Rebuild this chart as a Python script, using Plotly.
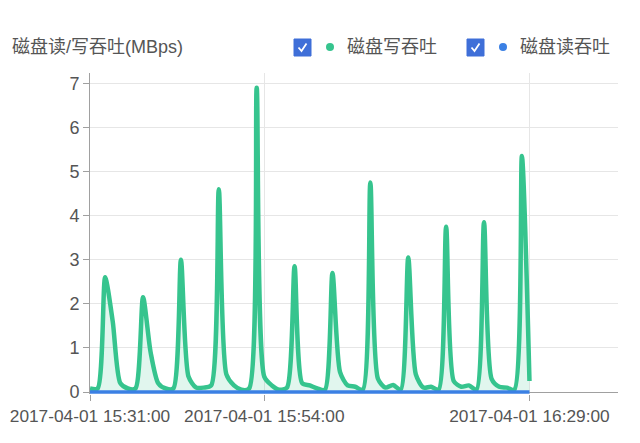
import plotly.graph_objects as go

# ---------------- data ----------------
minutes = [
    "15:31", "15:32", "15:33", "15:34", "15:35", "15:36", "15:37", "15:38", "15:39", "15:40",
    "15:41", "15:42", "15:43", "15:44", "15:45", "15:46", "15:47", "15:48", "15:49", "15:50",
    "15:51", "15:52", "15:53", "15:54", "15:55", "15:56", "15:57", "15:58", "15:59", "16:00",
    "16:01", "16:02", "16:03", "16:04", "16:05", "16:06", "16:07", "16:08", "16:09", "16:10",
    "16:11", "16:12", "16:13", "16:14", "16:15", "16:16", "16:17", "16:18", "16:19", "16:20",
    "16:21", "16:22", "16:23", "16:24", "16:25", "16:26", "16:27", "16:28", "16:29",
]
date_prefix = "2017-04-01 "

write_mbps = [
    0.08, 0.08, 2.6, 1.6, 0.2, 0.08, 0.08, 2.15, 0.9, 0.2,
    0.08, 0.08, 3.0, 0.35, 0.1, 0.1, 0.15, 4.6, 0.4, 0.15,
    0.05, 0.08, 6.9, 0.35, 0.15, 0.05, 0.1, 2.85, 0.2, 0.15,
    0.08, 0.05, 2.7, 0.45, 0.15, 0.12, 0.05, 4.75, 0.3, 0.1,
    0.16, 0.05, 3.05, 0.4, 0.1, 0.12, 0.05, 3.75, 0.25, 0.12,
    0.15, 0.05, 3.85, 0.3, 0.12, 0.1, 0.05, 5.35, 0.25,
]
read_mbps = [0.0] * len(minutes)

x_tick_values = ["2017-04-01 15:31:00", "2017-04-01 15:54:00", "2017-04-01 16:29:00"]
x_tick_labels = ["2017-04-01 15:31:00", "2017-04-01 15:54:00", "2017-04-01 16:29:00"]
y_tick_values = [0, 1, 2, 3, 4, 5, 6, 7]

title_text = "磁盘读/写吞吐(MBps)"
write_name = "磁盘写吞吐"
read_name = "磁盘读吞吐"

# ---------------- style ----------------
GREEN = "#36c48e"
BLUE = "#3b80e4"
CHECK = "#3f6fd8"
TEXT = "#555555"
AXIS = "#a0a0a0"
GRID = "#e6e6e6"
FONT = "Liberation Sans, Noto Sans CJK SC, sans-serif"
FS = 18

times = [date_prefix + m + ":00" for m in minutes]

fig = go.Figure()
fig.add_trace(go.Scatter(
    x=times, y=write_mbps, name=write_name, mode="lines",
    line=dict(color=GREEN, width=4.5, shape="spline", smoothing=0.7),
    fill="tozeroy", fillcolor="rgba(54,196,142,0.15)", showlegend=False,
))
fig.add_trace(go.Scatter(
    x=times, y=read_mbps, name=read_name, mode="lines",
    line=dict(color=BLUE, width=3.5), showlegend=False,
))

# page offset (body margin) and target plot area in window pixels
OFF = 8
L, R, T, B = 90, 618, 73, 394
W, H = 640 - OFF, 443 - OFF


def px(x):
    return (x - L) / (R - L)


def py(y):
    return (B - y) / (B - T)


shapes = []
annotations = []

# title
annotations.append(dict(
    text=title_text, xref="paper", yref="paper", x=px(10), y=py(47),
    xanchor="left", yanchor="middle", showarrow=False,
    font=dict(family=FONT, size=FS, color=TEXT),
))

# custom legend: checkbox + dot + text
for x0, color, name in [(294, GREEN, write_name), (467, BLUE, read_name)]:
    shapes.append(dict(
        type="rect", xref="paper", yref="paper",
        x0=px(x0), x1=px(x0 + 17), y0=py(56), y1=py(39),
        fillcolor=CHECK, line=dict(color=CHECK, width=1),
    ))
    shapes.append(dict(
        type="path", xref="paper", yref="paper",
        path="M {:.5f},{:.5f} L {:.5f},{:.5f} L {:.5f},{:.5f}".format(
            px(x0 + 4.5), py(47.5), px(x0 + 7.5), py(51), px(x0 + 12.5), py(43.5)),
        line=dict(color="white", width=1.8),
    ))
    cx = x0 + 36
    shapes.append(dict(
        type="circle", xref="paper", yref="paper",
        x0=px(cx - 4), x1=px(cx + 4), y0=py(51), y1=py(43),
        fillcolor=color, line=dict(color=color, width=0),
    ))
    annotations.append(dict(
        text=name, xref="paper", yref="paper", x=px(x0 + 51), y=py(47),
        xanchor="left", yanchor="middle", showarrow=False,
        font=dict(family=FONT, size=FS, color=TEXT),
    ))

fig.update_layout(
    width=W, height=H,
    margin=dict(l=L - OFF, r=W + OFF - R, t=T - OFF, b=H + OFF - B, pad=0,
                autoexpand=False),
    paper_bgcolor="white", plot_bgcolor="white",
    font=dict(family=FONT, size=FS, color=TEXT),
    shapes=shapes, annotations=annotations,
    showlegend=False,
    xaxis=dict(
        type="date", automargin=False, ticklabeloverflow="allow",
        range=["2017-04-01 15:31:00", "2017-04-01 16:40:41"],
        tickmode="array", tickvals=x_tick_values, ticktext=x_tick_labels,
        showgrid=True, gridcolor=GRID, gridwidth=1,
        showline=False,
        ticks="outside", ticklen=6, tickcolor=AXIS,
        tickfont=dict(family=FONT, size=17.3, color=TEXT),
        zeroline=False, fixedrange=True,
    ),
    yaxis=dict(
        automargin=False,
        range=[-0.045, 7.234],
        tickmode="array", tickvals=y_tick_values,
        showgrid=True, gridcolor=GRID, gridwidth=1,
        showline=True, linecolor=AXIS, linewidth=1,
        ticks="outside", ticklen=6, tickcolor=AXIS,
        tickfont=dict(family=FONT, size=FS, color=TEXT),
        zeroline=True, zerolinecolor=AXIS, zerolinewidth=1,
        fixedrange=True,
    ),
)

fig.write_html("out.html", config={"displayModeBar": False})
